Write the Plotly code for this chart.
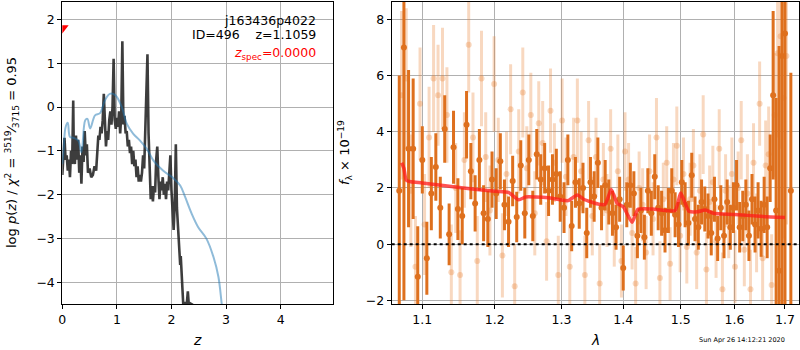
import plotly.graph_objects as go

# ---------------- Left panel: log p(z) ----------------
pz_z = [0.00, 0.02, 0.04, 0.06, 0.08, 0.10, 0.12, 0.14, 0.16, 0.18, 0.20, 0.21, 0.23, 0.25, 0.27,
        0.29, 0.31, 0.33, 0.35, 0.37, 0.39, 0.41, 0.43, 0.45, 0.47, 0.50, 0.53, 0.56, 0.59, 0.62,
        0.64, 0.66, 0.68, 0.70, 0.72, 0.74, 0.76, 0.78, 0.80, 0.82, 0.84, 0.86, 0.88, 0.90, 0.92,
        0.94, 0.96, 0.98, 1.00, 1.02, 1.04, 1.06, 1.08, 1.10, 1.12, 1.14, 1.16, 1.18, 1.20, 1.22,
        1.24, 1.26, 1.28, 1.30, 1.32, 1.34, 1.36, 1.38, 1.40, 1.42, 1.44, 1.46, 1.48, 1.50, 1.52,
        1.54, 1.56, 1.58, 1.60, 1.62, 1.64, 1.66, 1.68, 1.70, 1.72, 1.74, 1.76, 1.78, 1.80, 1.82,
        1.84, 1.86, 1.88, 1.90, 1.92, 1.94, 1.96, 1.98, 2.00, 2.02, 2.04, 2.06, 2.08, 2.10, 2.12,
        2.14, 2.16, 2.17, 2.19, 2.21, 2.22, 2.25, 2.28, 2.30, 2.32, 2.35, 2.38, 2.40, 2.50]
pz_logp = [-1.55, -1.2, -0.7, -1.2, -1.1, -1.45, -1.2, -1.6, -1.0, -1.3, 0.15, -1.0, -1.3, -0.65, -1.2,
           -0.75, -1.5, -1.1, -1.75, -0.9, -1.25, -0.55, -1.1, -0.85, -1.5, -1.4, -1.6, -1.55, -1.35, -1.45,
           -0.9, -0.65, -0.75, -0.45, -0.6, -0.3, 0.3, -0.55, -0.9, -0.55, -0.75, -0.3, -0.1, -0.4, 0.0,
           1.1, -0.3, -0.5, -0.25, -0.45, -0.1, -0.6, -0.2, 1.5, -0.4, -0.2, -0.6, -0.55, -0.9, -0.75,
           -1.05, -0.9, -1.3, -1.0, -1.35, -1.2, -1.6, -1.35, -1.7, -1.55, -1.7, -1.5, -1.1, -1.4, -0.5,
           0.2, 1.2, -0.6, -1.4, -2.1, -1.8, -2.15, -1.8, -1.95, -1.2, -0.9, -1.6, -2.1, -1.7, -1.9,
           -1.6, -2.0, -1.75, -2.1, -1.7, -1.9, -1.5, -1.1, -1.9, -2.3, -2.8, -2.2, -0.85, -2.3, -2.8,
           -3.3, -3.6, -3.4, -4.1, -4.5, -4.6, -4.45, -4.5, -4.2, -4.55, -4.48, -4.5, -4.8, -6.0]

prior_z = [0.00, 0.02, 0.06, 0.10, 0.14, 0.20, 0.29, 0.35, 0.42, 0.46, 0.51, 0.60, 0.69, 0.78, 0.87,
           0.97, 1.09, 1.18, 1.30, 1.42, 1.55, 1.67, 1.85, 2.04, 2.16, 2.25, 2.37, 2.49, 2.64, 2.77,
           2.86, 2.92, 2.96]
prior_logp = [-1.3, -1.03, -0.46, -0.36, -0.68, -0.7, -0.76, -1.03, -0.3, -0.27, -0.49, -0.19, -0.14, 0.15, 0.3,
              0.27, 0.0, -0.38, -0.61, -0.76, -0.96, -1.22, -1.45, -1.63, -1.79, -2.05, -2.43, -2.74, -3.0, -3.42,
              -3.87, -4.48, -4.9]

zspec_z = [0.0]
zspec_y = [1.8]

# ---------------- Right panel: spectrum ----------------
g1_wave = [1.070, 1.076, 1.082, 1.088, 1.094, 1.100, 1.106, 1.112, 1.118, 1.124, 1.130, 1.136, 1.142, 1.148,
           1.154, 1.160, 1.166, 1.172, 1.178, 1.184, 1.190, 1.196, 1.202, 1.208, 1.214, 1.220, 1.226, 1.232,
           1.238, 1.244, 1.250, 1.256, 1.262, 1.268, 1.274, 1.280, 1.286, 1.292, 1.298, 1.304, 1.310, 1.316,
           1.322, 1.328, 1.334, 1.340, 1.346, 1.352, 1.358, 1.364, 1.370, 1.376, 1.382, 1.388, 1.394, 1.400,
           1.406, 1.412, 1.418, 1.424, 1.430, 1.436, 1.442, 1.448, 1.454, 1.460, 1.466, 1.472, 1.478, 1.484,
           1.490, 1.496, 1.502, 1.508, 1.514, 1.520, 1.526, 1.532, 1.538, 1.544, 1.550, 1.556, 1.562, 1.568,
           1.574, 1.580, 1.586, 1.592, 1.598, 1.604, 1.610, 1.616, 1.622, 1.628, 1.634, 1.640, 1.646, 1.652,
           1.658, 1.664, 1.670, 1.676, 1.682, 1.688, 1.694, 1.700, 1.712]
g1_flux = [1.9, 7.0, 3.4, 3.4, -1.16, 3.0, -0.5, 1.8, 2.75, 1.3, 4.1, 0.35, 3.45, 1.25,
           1.0, 4.25, 2.6, 1.45, 3.0, 1.1, 0.9, 2.3, 1.8, 2.95, 1.4, 0.8, 2.25, 0.97,
           2.8, 1.1, 3.0, 1.0, 3.2, 2.3, 2.7, 1.9, 2.3, 2.5, 1.7, 1.3, 3.0, 0.65,
           2.2, 1.45, 2.0, 0.4, 2.2, 1.7, 2.9, 1.3, 2.1, 1.5, 1.1, 0.6, 1.6, -0.85,
           1.4, 2.1, 1.8, 0.3, 1.2, 0.25, 1.9, 1.1, 2.4, 1.3, 1.1, 0.5, 1.2, 1.9,
           1.05, 0.7, 2.2, 1.4, 0.75, 2.45, 0.9, 0.6, 1.5, 1.25, 1.0, 0.4, 1.6, 0.2,
           1.3, 0.3, 1.5, 0.6, 1.3, 2.1, 0.6, 1.0, 1.4, 0.3, 1.6, 0.7, 1.2, 0.55,
           1.4, 0.6, 2.7, 5.3, 1.2, -0.95, 6.7, 7.5, 1.9]
g1_err = [4.1, 9.0, 2.8, 2.5, 1.8, 1.2, 1.3, 1.3, 1.2, 1.1, 1.2, 1.1, 1.3, 1.1,
          1.0, 1.2, 1.0, 1.0, 1.1, 1.0, 1.0, 1.0, 0.9, 1.0, 0.9, 0.9, 0.9, 0.9,
          0.9, 0.9, 0.9, 0.9, 0.9, 0.9, 0.9, 0.9, 0.9, 0.9, 0.9, 0.9, 0.9, 0.9,
          0.9, 0.9, 0.9, 0.9, 0.9, 0.9, 0.9, 0.8, 0.9, 0.8, 0.8, 0.8, 0.8, 0.8,
          0.8, 0.8, 0.8, 0.8, 0.8, 0.8, 0.8, 0.8, 0.8, 0.8, 0.8, 0.8, 0.8, 0.8,
          0.8, 0.8, 0.8, 0.8, 0.8, 0.8, 0.8, 0.8, 0.8, 0.8, 0.8, 0.8, 0.8, 0.8,
          0.8, 0.8, 0.8, 0.8, 0.9, 0.9, 0.9, 0.9, 0.9, 0.9, 0.9, 1.0, 1.0, 1.0,
          1.0, 1.1, 1.2, 3.0, 4.0, 8.0, 9.0, 10.0, 4.2]

g2_wave = [1.073, 1.079, 1.085, 1.091, 1.097, 1.103, 1.109, 1.115, 1.121, 1.127, 1.133, 1.139, 1.145, 1.151,
           1.157, 1.163, 1.169, 1.175, 1.181, 1.187, 1.193, 1.199, 1.205, 1.211, 1.217, 1.223, 1.229, 1.235,
           1.241, 1.247, 1.253, 1.259, 1.265, 1.271, 1.277, 1.283, 1.289, 1.295, 1.301, 1.307, 1.313, 1.319,
           1.325, 1.331, 1.337, 1.343, 1.349, 1.355, 1.361, 1.367, 1.373, 1.379, 1.385, 1.391, 1.397, 1.403,
           1.409, 1.415, 1.421, 1.427, 1.433, 1.439, 1.445, 1.451, 1.457, 1.463, 1.469, 1.475, 1.481, 1.487,
           1.493, 1.499, 1.505, 1.511, 1.517, 1.523, 1.529, 1.535, 1.541, 1.547, 1.553, 1.559, 1.565, 1.571,
           1.577, 1.583, 1.589, 1.595, 1.601, 1.607, 1.613, 1.619, 1.625, 1.631, 1.637, 1.643, 1.649, 1.655,
           1.661, 1.667, 1.673, 1.679, 1.685, 1.691, 1.697, 1.703]
g2_flux = [5.3, 5.9, 1.9, -0.8, 5.0, 0.7, 3.8, 5.9, 5.3, 5.9, 4.6, -1.0, 2.0, -1.1,
           3.0, 7.1, 3.8, -0.6, 5.9, 3.1, 1.2, 5.7, 3.0, -0.4, 2.5, 4.8, -1.5, 3.3,
           5.4, 2.7, 4.6, 1.1, 4.3, 3.6, 0.1, 4.75, 2.9, -1.1, 4.4, 2.4, -0.8, 3.1,
           4.4, 2.6, -1.1, 3.7, 1.0, 3.1, -1.4, 2.3, 1.2, 3.4, 0.5, 2.6, -0.6, 3.3,
           2.3, 0.4, -1.4, 2.0, 1.4, -0.3, 2.6, 0.9, 3.8, -1.2, 1.6, 2.9, -0.7, 2.3,
           3.5, 0.3, 2.5, -0.1, 1.6, 2.8, -0.3, 1.9, 3.9, -0.9, 1.5, 2.2, 0.1, 3.4,
           -1.6, 1.9, 0.8, 2.5, -0.8, 2.0, 3.7, -0.2, 1.8, -1.6, 2.9, 0.4, 5.0, -0.5,
           2.8, 3.2, -1.45, 4.6, 6.8, 7.4, 5.2, 6.7]
g2_err = [3.0, 2.5, 2.0, 1.8, 2.0, 1.8, 1.8, 1.9, 1.8, 1.8, 1.7, 1.7, 1.6, 1.6,
          1.7, 1.7, 1.6, 1.6, 1.7, 1.6, 1.6, 1.7, 1.5, 1.5, 1.5, 1.6, 1.5, 1.5,
          1.6, 1.5, 1.5, 1.5, 1.5, 1.5, 1.4, 1.5, 1.4, 1.4, 1.5, 1.4, 1.4, 1.4,
          1.5, 1.4, 1.4, 1.4, 1.4, 1.4, 1.4, 1.3, 1.3, 1.4, 1.3, 1.3, 1.3, 1.4,
          1.3, 1.3, 1.3, 1.3, 1.3, 1.3, 1.3, 1.3, 1.4, 1.3, 1.3, 1.3, 1.3, 1.3,
          1.4, 1.3, 1.3, 1.3, 1.3, 1.3, 1.3, 1.3, 1.4, 1.3, 1.3, 1.3, 1.3, 1.4,
          1.3, 1.3, 1.3, 1.3, 1.3, 1.3, 1.4, 1.3, 1.4, 1.4, 1.4, 1.4, 1.5, 1.5,
          1.6, 1.7, 1.8, 2.2, 3.0, 4.0, 5.0, 6.0]

model_wave = [1.073, 1.076, 1.079, 1.085, 1.10, 1.15, 1.20, 1.22, 1.235, 1.245, 1.26, 1.28, 1.31, 1.325,
              1.335, 1.36, 1.37, 1.38, 1.39, 1.40, 1.415, 1.425, 1.45, 1.49, 1.50, 1.515, 1.53, 1.545,
              1.56, 1.60, 1.65, 1.70]
model_flux = [2.9, 2.7, 2.28, 2.22, 2.18, 2.02, 1.88, 1.84, 1.58, 1.68, 1.68, 1.65, 1.55, 1.75,
              1.6, 1.42, 1.42, 1.95, 1.45, 1.33, 0.78, 1.24, 1.25, 1.2, 1.82, 1.17, 1.15, 1.22,
              1.1, 1.06, 0.99, 0.95]

lam_ticks = [1.1, 1.2, 1.3, 1.4, 1.5, 1.6, 1.7]

FONT = "DejaVu Sans"
GRID = "#b0b0b0"
DARK = "rgb(222,112,30)"
LIGHT = "rgba(232,125,45,0.3)"

fig = go.Figure()

fig.add_trace(go.Scatter(x=pz_z, y=pz_logp, mode="lines",
                         line=dict(color="rgba(40,40,40,0.9)", width=2.6),
                         xaxis="x", yaxis="y", showlegend=False))
fig.add_trace(go.Scatter(x=prior_z, y=prior_logp, mode="lines",
                         line=dict(color="rgba(31,119,180,0.5)", width=2, shape="spline"),
                         xaxis="x", yaxis="y", showlegend=False))
fig.add_trace(go.Scatter(x=zspec_z, y=zspec_y, mode="markers",
                         marker=dict(symbol="triangle-down", color="red", size=11),
                         xaxis="x", yaxis="y", showlegend=False))

fig.add_trace(go.Scatter(x=g2_wave, y=g2_flux, mode="markers",
                         marker=dict(color=LIGHT, size=6, line=dict(width=0)),
                         error_y=dict(type="data", array=g2_err, color=LIGHT, thickness=3, width=0),
                         xaxis="x2", yaxis="y2", showlegend=False))
fig.add_trace(go.Scatter(x=g1_wave, y=g1_flux, mode="markers",
                         marker=dict(color=DARK, size=6, line=dict(width=0)),
                         error_y=dict(type="data", array=g1_err, color=DARK, thickness=3, width=0),
                         xaxis="x2", yaxis="y2", showlegend=False))
fig.add_trace(go.Scatter(x=model_wave, y=model_flux, mode="lines",
                         line=dict(color="rgba(255,25,25,0.75)", width=3.5, shape="spline", smoothing=0.5),
                         xaxis="x2", yaxis="y2", showlegend=False))

fig.add_shape(type="line", xref="x2 domain", yref="y2", x0=0, x1=1, y0=0, y1=0,
              line=dict(color="black", width=2, dash="dot"), layer="above")

axis_common = dict(showgrid=True, gridcolor=GRID, gridwidth=1, showline=True, linecolor="black",
                   linewidth=1, mirror=True, ticks="outside", ticklen=4, tickcolor="black",
                   tickfont=dict(size=12.5, color="black", family=FONT), zeroline=False,
                   automargin=False)

fig.update_layout(
    width=800, height=350, margin=dict(l=0, r=0, t=0, b=0, pad=0, autoexpand=False),
    paper_bgcolor="white", plot_bgcolor="white",
    font=dict(family=FONT, color="black"),
    xaxis=dict(domain=[0.0779, 0.4166], range=[0, 4.965], tickvals=[0, 1, 2, 3, 4],
               anchor="y", **axis_common),
    yaxis=dict(domain=[0.1314, 0.9951], range=[-4.49, 2.40], tickvals=[-4, -3, -2, -1, 0, 1, 2],
               anchor="x", **axis_common),
    xaxis2=dict(domain=[0.4896, 0.99875], type="log", range=[0.02543, 0.23775],
                tickvals=lam_ticks, ticktext=[f"{v:.1f}" for v in lam_ticks],
                anchor="y2", **axis_common),
    yaxis2=dict(domain=[0.1314, 0.9951], range=[-2.13, 8.63], tickvals=[-2, 0, 2, 4, 6, 8],
                anchor="x2", **axis_common),
)

ann = [
    dict(x=318 / 800, y=1 - 20 / 350, text="j163436p4022", font=dict(size=12.5), xanchor="right"),
    dict(x=318 / 800, y=1 - 35 / 350, text="ID=496\u00a0\u00a0\u00a0\u00a0z=1.1059",
         font=dict(size=12.5), xanchor="right"),
    dict(x=318 / 800, y=1 - 54 / 350, text="<i>z</i><sub>spec</sub>=0.0000",
         font=dict(size=12.5, color="red"), xanchor="right"),
    dict(x=197.7 / 800, y=1 - 340 / 350, text="<i>z</i>", font=dict(size=14), xanchor="center"),
    dict(x=595.5 / 800, y=1 - 340 / 350, text="<i>λ</i>", font=dict(size=14), xanchor="center"),
    dict(x=12 / 800, y=1 - 153 / 350, textangle=-90,
         text="log <i>p</i>(<i>z</i>) / <i>χ</i><sup>2</sup> = <sup>3519</sup>⁄<sub>3715</sub> = 0.95",
         font=dict(size=13), xanchor="center"),
    dict(x=345 / 800, y=1 - 153 / 350, textangle=-90,
         text="<i>f</i><sub>λ</sub> × 10<sup>−19</sup>", font=dict(size=13), xanchor="center"),
    dict(x=742 / 800, y=1 - 340 / 350, text="Sun Apr 26 14:12:21 2020", font=dict(size=6.5),
         xanchor="center"),
]
for a in ann:
    a.update(xref="paper", yref="paper", yanchor="middle", showarrow=False)
    fig.add_annotation(**a)

fig.write_html("out.html")
